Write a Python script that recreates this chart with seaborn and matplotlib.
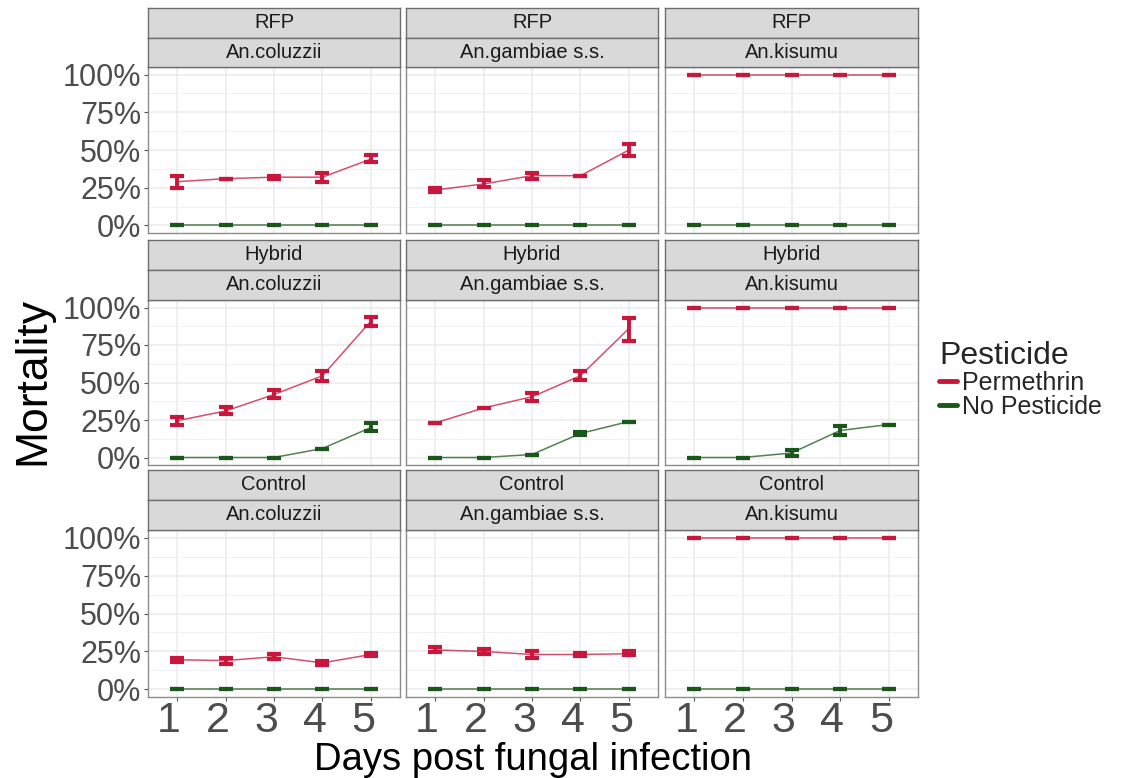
import numpy as np
import pandas as pd
import seaborn as sns
import matplotlib
matplotlib.use("Agg")
import matplotlib.pyplot as plt
from matplotlib.lines import Line2D
from matplotlib.ticker import PercentFormatter, FixedLocator
from matplotlib.transforms import ScaledTranslation

# ---------------- data ----------------
infections = ["RFP", "Hybrid", "Control"]
species = ["An.coluzzii", "An.gambiae s.s.", "An.kisumu"]
days = [1, 2, 3, 4, 5]
pesticides = ["Permethrin", "No Pesticide"]

# Permethrin mean / lower / upper, one list per panel (row-major: infection x species)
perm_mean = [
    [0.29, 0.31, 0.32, 0.32, 0.44], [0.235, 0.275, 0.33, 0.33, 0.50], [1.0, 1.0, 1.0, 1.0, 1.0],
    [0.245, 0.31, 0.42, 0.545, 0.91], [0.23, 0.33, 0.405, 0.545, 0.86], [1.0, 1.0, 1.0, 1.0, 1.0],
    [0.195, 0.19, 0.215, 0.175, 0.23], [0.26, 0.25, 0.23, 0.23, 0.235], [1.0, 1.0, 1.0, 1.0, 1.0],
]
perm_lo = [
    [0.25, 0.31, 0.31, 0.29, 0.42], [0.22, 0.255, 0.31, 0.33, 0.46], [1.0, 1.0, 1.0, 1.0, 1.0],
    [0.22, 0.29, 0.40, 0.51, 0.88], [0.23, 0.33, 0.38, 0.52, 0.78], [1.0, 1.0, 1.0, 1.0, 1.0],
    [0.18, 0.17, 0.20, 0.16, 0.22], [0.245, 0.235, 0.21, 0.22, 0.225], [1.0, 1.0, 1.0, 1.0, 1.0],
]
perm_hi = [
    [0.33, 0.31, 0.33, 0.345, 0.47], [0.25, 0.30, 0.35, 0.33, 0.54], [1.0, 1.0, 1.0, 1.0, 1.0],
    [0.27, 0.34, 0.45, 0.58, 0.94], [0.23, 0.33, 0.43, 0.575, 0.93], [1.0, 1.0, 1.0, 1.0, 1.0],
    [0.21, 0.21, 0.235, 0.19, 0.24], [0.28, 0.265, 0.25, 0.24, 0.25], [1.0, 1.0, 1.0, 1.0, 1.0],
]
# No pesticide mean / lower / upper
nop_mean = [
    [0, 0, 0, 0, 0], [0, 0, 0, 0, 0], [0, 0, 0, 0, 0],
    [0, 0, 0, 0.06, 0.20], [0, 0, 0.02, 0.16, 0.24], [0, 0, 0.03, 0.18, 0.22],
    [0, 0, 0, 0, 0], [0, 0, 0, 0, 0], [0, 0, 0, 0, 0],
]
nop_lo = [
    [0, 0, 0, 0, 0], [0, 0, 0, 0, 0], [0, 0, 0, 0, 0],
    [0, 0, 0, 0.06, 0.18], [0, 0, 0.02, 0.15, 0.24], [0, 0, 0.01, 0.15, 0.22],
    [0, 0, 0, 0, 0], [0, 0, 0, 0, 0], [0, 0, 0, 0, 0],
]
nop_hi = [
    [0, 0, 0, 0, 0], [0, 0, 0, 0, 0], [0, 0, 0, 0, 0],
    [0, 0, 0, 0.06, 0.23], [0, 0, 0.02, 0.17, 0.24], [0, 0, 0.05, 0.21, 0.22],
    [0, 0, 0, 0, 0], [0, 0, 0, 0, 0], [0, 0, 0, 0, 0],
]

colors = {"Permethrin": "#C8163C", "No Pesticide": "#1B561B"}

# build long table
rows = []
for i, inf in enumerate(infections):
    for j, sp in enumerate(species):
        k = i * 3 + j
        for d_i, d in enumerate(days):
            rows.append((inf, sp, d, "Permethrin", perm_mean[k][d_i], perm_lo[k][d_i], perm_hi[k][d_i]))
            rows.append((inf, sp, d, "No Pesticide", nop_mean[k][d_i], nop_lo[k][d_i], nop_hi[k][d_i]))
df = pd.DataFrame(rows, columns=["Infection", "Species", "Day", "Pesticide", "Mortality", "lo", "hi"])

# ---------------- style ----------------
sns.set_theme(style="white")
plt.rcParams["font.family"] = ["Liberation Sans", "DejaVu Sans"]

W, H = 1126, 778
fig = plt.figure(figsize=(W / 100, H / 100), dpi=100)
fig.patch.set_facecolor("white")

col_x = [(148, 400), (406, 658), (665, 918)]
row_panel = [(67, 233), (300, 465), (530, 697)]
row_strip1 = [(8, 38), (240, 270), (470, 500)]
row_strip2 = [(38, 67), (270, 300), (500, 530)]


def frac(x0, x1, y0, y1):
    return [x0 / W, 1 - y1 / H, (x1 - x0) / W, (y1 - y0) / H]


def strip(x0, x1, y0, y1, text):
    sa = fig.add_axes(frac(x0, x1, y0, y1))
    sa.set_facecolor("#D9D9D9")
    sa.set_xticks([])
    sa.set_yticks([])
    for s in sa.spines.values():
        s.set_color("#6E6E6E")
        s.set_linewidth(1.0)
    sa.text(0.5, 0.5, text, ha="center", va="center", fontsize=14.5, color="#1A1A1A",
            transform=sa.transAxes)


for i, inf in enumerate(infections):
    for j, sp in enumerate(species):
        x0, x1 = col_x[j]
        y0, y1 = row_panel[i]
        ax = fig.add_axes(frac(x0, x1, y0, y1))
        sub = df[(df.Infection == inf) & (df.Species == sp)]
        ax.set_facecolor("white")
        # grid
        ax.set_axisbelow(True)
        ax.yaxis.set_minor_locator(FixedLocator([0.125, 0.375, 0.625, 0.875]))
        ax.grid(which="major", color="#EBEBEB", lw=1.1)
        ax.grid(which="minor", axis="y", color="#F2F2F2", lw=0.7)
        sns.lineplot(data=sub, x="Day", y="Mortality", hue="Pesticide", hue_order=pesticides,
                     palette=colors, ax=ax, legend=False, lw=1.1, errorbar=None, alpha=0.75)
        for p in pesticides:
            s = sub[sub.Pesticide == p]
            ax.errorbar(s["Day"], s["Mortality"],
                        yerr=[s["Mortality"] - s["lo"], s["hi"] - s["Mortality"]],
                        fmt="none", ecolor=colors[p], elinewidth=2.8, capsize=5.0,
                        capthick=3.0, zorder=3)
        ax.set_xlim(0.4, 5.6)
        ax.set_ylim(-0.05, 1.05)
        ax.set_xticks(days)
        ax.set_yticks([0, 0.25, 0.5, 0.75, 1.0])
        ax.yaxis.set_major_formatter(PercentFormatter(1.0, decimals=0))
        ax.set_xlabel("")
        ax.set_ylabel("")
        for s in ax.spines.values():
            s.set_color("#8C8C8C")
            s.set_linewidth(1.0)
        ax.tick_params(axis="both", which="major", length=3, width=0.8, color="#555555",
                       direction="out", left=(j == 0), bottom=(i == 2))
        ax.tick_params(axis="y", labelsize=22, labelcolor="#4D4D4D", pad=2,
                       labelleft=(j == 0))
        ax.tick_params(axis="x", labelsize=31, labelcolor="#4D4D4D", pad=0,
                       labelbottom=(i == 2))
        ax.tick_params(which="minor", left=False, bottom=False)
        if i == 2:
            off = ScaledTranslation(-8 / 100, 0, fig.dpi_scale_trans)
            for lab in ax.get_xticklabels():
                lab.set_transform(lab.get_transform() + off)

        strip(x0, x1, row_strip1[i][0], row_strip1[i][1], inf)
        strip(x0, x1, row_strip2[i][0], row_strip2[i][1], sp)

# axis titles
fig.text(33 / W, 1 - 381 / H, "Mortality", rotation=90, ha="center", va="center",
         fontsize=32, color="black")
fig.text(533 / W, 1 - 760 / H, "Days post fungal infection", ha="center", va="center",
         fontsize=27.5, color="black")

# legend
handles = [Line2D([], [], color=colors[p], lw=3.5) for p in pesticides]
leg = fig.legend(handles, pesticides, title="Pesticide", loc="upper left",
                 bbox_to_anchor=(939 / W, 1 - 341 / H), frameon=False, fontsize=18,
                 title_fontsize=23, handlelength=0.72, handletextpad=0.22,
                 labelspacing=0.0, borderpad=0, borderaxespad=0, alignment="left")

fig.savefig("out.png", dpi=100, facecolor="white")
